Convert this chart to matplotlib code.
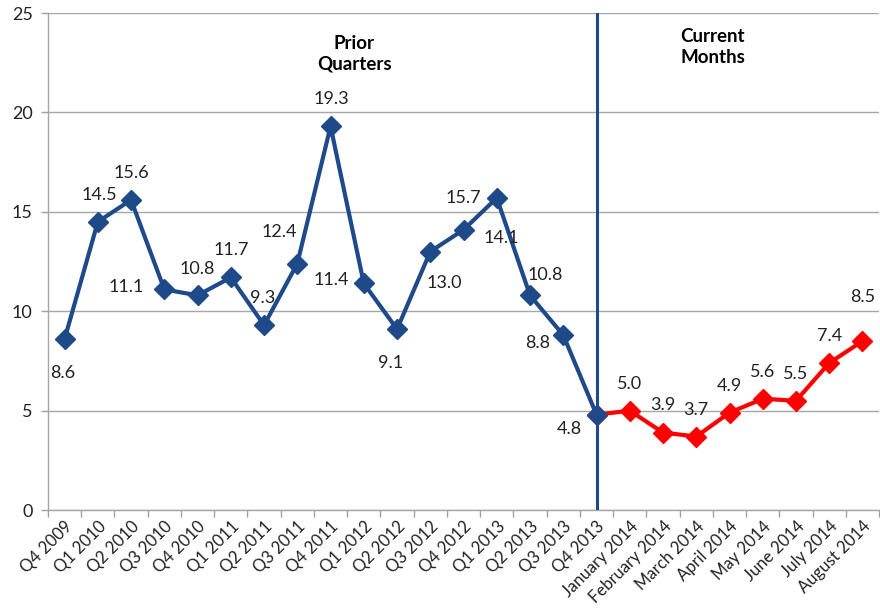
import numpy as np
import matplotlib
matplotlib.use("Agg")
import matplotlib.pyplot as plt

plt.rcParams['font.family'] = ['Lato', 'DejaVu Sans']

# categories and values
quarters = ["Q4 2009", "Q1 2010", "Q2 2010", "Q3 2010", "Q4 2010", "Q1 2011",
            "Q2 2011", "Q3 2011", "Q4 2011", "Q1 2012", "Q2 2012", "Q3 2012",
            "Q4 2012", "Q1 2013", "Q2 2013", "Q3 2013", "Q4 2013"]
months = ["January 2014", "February 2014", "March 2014", "April 2014",
          "May 2014", "June 2014", "July 2014", "August 2014"]
quarter_vals = [8.6, 14.5, 15.6, 11.1, 10.8, 11.7, 9.3, 12.4, 19.3, 11.4,
                9.1, 13.0, 14.1, 15.7, 10.8, 8.8, 4.8]
month_vals = [5.0, 3.9, 3.7, 4.9, 5.6, 5.5, 7.4, 8.5]

# label offsets in pixels (dx, dy), as placed in the original
quarter_offs = [(-2, -34), (1, 27), (0, 27), (-38, 2), (0, 26), (0, 27),
                (-1, 27), (-18, 32), (1, 27), (-33, 3), (-6, -34), (14, -31),
                (38, -8), (-33, 0), (15, 20), (-26, -8), (-27, -14)]
month_offs = [(0, 27), (0, 28), (0, 27), (0, 27), (0, 27), (0, 27), (0, 27), (0, 44)]

labels = quarters + months
x_q = np.arange(len(quarters))
x_m = np.arange(len(quarters) - 1, len(labels))
m_vals = [quarter_vals[-1]] + month_vals

blue = "#1f4a8a"
red = "#ff0000"

fig = plt.figure(figsize=(8.8, 6.08), dpi=100)
ax = fig.add_axes([0.0545, 0.161, 0.9445, 0.8176])

ax.plot(x_m, m_vals, color=red, lw=3, marker="D", ms=10, zorder=3)
ax.plot(x_q, quarter_vals, color=blue, lw=3, marker="D", ms=10, zorder=4)
ax.axvline(len(quarters) - 1, color=blue, lw=2.2, zorder=5)

for xi, v, (dx, dy) in zip(x_q, quarter_vals, quarter_offs):
    ax.annotate(f"{v:.1f}", (xi, v), xytext=(dx, dy), textcoords="offset pixels",
                ha="center", va="center", fontsize=13, color="#222222", zorder=6)
for xi, v, (dx, dy) in zip(x_m[1:], month_vals, month_offs):
    ax.annotate(f"{v:.1f}", (xi, v), xytext=(dx, dy), textcoords="offset pixels",
                ha="center", va="center", fontsize=13, color="#222222", zorder=6)

ax.text(8.72, 22.95, "Prior\nQuarters", ha="center", va="center",
        fontsize=13.5, fontweight="bold", linespacing=1.25)
ax.text(19.5, 23.3, "Current\nMonths", ha="center", va="center",
        fontsize=13.5, fontweight="bold", linespacing=1.25)

ax.set_xlim(-0.5, len(labels) - 0.5)
ax.set_ylim(0, 25)
ax.set_yticks(range(0, 26, 5))
ax.set_xticks(np.arange(len(labels)))
ax.set_xticklabels(labels, rotation=45, ha="right", rotation_mode="anchor",
                   fontsize=12, color="#222222")
ax.set_xticks(np.arange(-0.5, len(labels), 1), minor=True)
ax.tick_params(axis="x", which="major", length=0, pad=6)
ax.tick_params(axis="x", which="minor", length=5, color="#a0a0a0", width=1)
ax.tick_params(axis="y", length=5, color="#a0a0a0", width=1, labelsize=13,
               labelcolor="#222222", pad=6)

ax.grid(axis="y", color="#a6a6a6", lw=1)
ax.set_axisbelow(True)
for s in ["top", "right"]:
    ax.spines[s].set_visible(False)
for s in ["left", "bottom"]:
    ax.spines[s].set_color("#a6a6a6")
    ax.spines[s].set_linewidth(1)

fig.savefig("out.png", dpi=100)
